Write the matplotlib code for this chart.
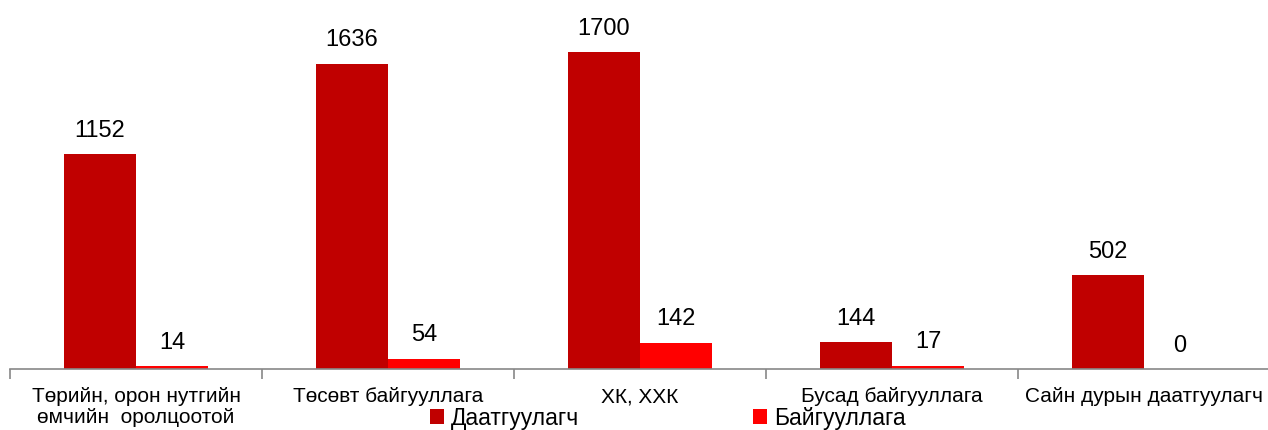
import numpy as np
import matplotlib.pyplot as plt

categories = ["Төрийн, орон нутгийн\nөмчийн  оролцоотой", "Төсөвт байгууллага",
              "ХК, ХХК", "Бусад байгууллага", "Сайн дурын даатгуулагч"]
insured = [1152, 1636, 1700, 144, 502]
orgs = [14, 54, 142, 17, 0]
series_names = ["Даатгуулагч", "Байгууллага"]

plt.rcParams['font.family'] = ['Liberation Sans', 'DejaVu Sans']

fig = plt.figure(figsize=(12.68, 4.3), dpi=100)
ax = fig.add_axes([10 / 1268, 61 / 430, 1260 / 1268, 369 / 430])

x = np.arange(len(categories))
w = 0.286
b1 = ax.bar(x - w / 2, insured, w, color="#C00000", label=series_names[0])
b2 = ax.bar(x + w / 2, orgs, w, color="#FF0000", label=series_names[1])

for bars in (b1, b2):
    for rect in bars:
        ax.annotate(f"{int(rect.get_height())}",
                    (rect.get_x() + rect.get_width() / 2, rect.get_height()),
                    xytext=(0, 9), textcoords="offset points",
                    ha="center", va="bottom", fontsize=17)

ax.set_xlim(-0.5, len(categories) - 0.5)
ax.set_ylim(0, 1979)
ax.set_yticks([])
for s in ("top", "right", "left"):
    ax.spines[s].set_visible(False)
ax.spines["bottom"].set_color("#888888")
ax.spines["bottom"].set_linewidth(1.2)

ax.set_xticks(np.arange(len(categories) + 1) - 0.5, minor=True)
ax.tick_params(axis="x", which="minor", length=7, color="#888888", width=1.2)
ax.set_xticks(x)
ax.set_xticklabels(categories, fontsize=15, linespacing=1.15)
ax.tick_params(axis="x", which="major", length=0, pad=13)

fig.legend(loc="center", bbox_to_anchor=(668 / 1268, 12 / 430), ncol=2,
           frameon=False, prop={'size': 16.5},
           handlelength=0.6, handleheight=0.6, handletextpad=0.3, columnspacing=7.6,
           borderpad=0)

fig.savefig("out.png", dpi=100)
